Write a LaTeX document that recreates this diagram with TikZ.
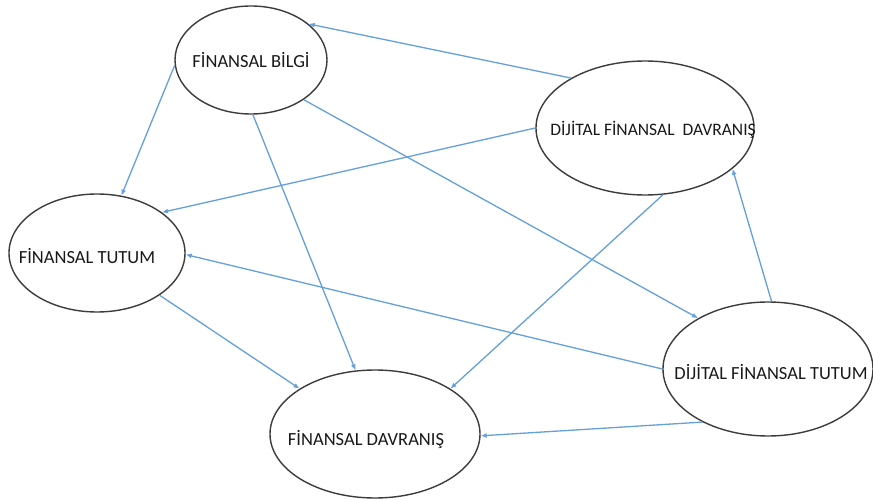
\documentclass[tikz,border=0pt]{standalone}
\usepackage{fontspec}
\setmainfont{Carlito}
\usetikzlibrary{arrows.meta,shapes.geometric}
\definecolor{arr}{RGB}{100,160,220}
\definecolor{edge}{RGB}{60,60,60}
\tikzset{
  ell/.style={draw=edge, line width=1.4pt, ellipse, inner sep=0pt},
  lbl/.style={font=\fontsize{18.5}{22}\selectfont, text=black!90, inner sep=0pt},
  conn/.style={draw=arr, line width=1.3pt, -{Latex[length=6pt,width=5pt]}}
}
\begin{document}
\begin{tikzpicture}[x=1pt,y=-1pt]
\useasboundingbox (0,0) rectangle (873,502);
\fill[white] (0,0) rectangle (873,502);
\node[ell, minimum width=152pt, minimum height=108pt] (fb) at (251,60) {};
\node[ell, minimum width=218pt, minimum height=134pt] (dfd) at (645,128) {};
\node[ell, minimum width=176pt, minimum height=118pt] (ft) at (97,253) {};
\node[ell, minimum width=210pt, minimum height=134pt] (dft) at (768,369) {};
\node[ell, minimum width=210pt, minimum height=128pt] (fd) at (375,434) {};
\node[lbl] (tfb) at (251,60) {FİNANSAL BİLGİ};
\node[lbl, font=\fontsize{17.5}{20}\selectfont] (tdfd) at (653,130) {DİJİTAL FİNANSAL\ \ DAVRANIŞ};
\node[lbl] (tft) at (87,256) {FİNANSAL TUTUM};
\node[lbl] (tdft) at (771,372) {DİJİTAL FİNANSAL TUTUM};
\node[lbl] (tfd) at (366,440) {FİNANSAL DAVRANIŞ};
\draw[conn] (dfd.146) -- (fb.32);
\draw[conn] (fb.184) -- (ft.67);
\draw[conn] (dfd.180) -- (ft.32);
\draw[conn] (fb.272) -- (fd.107);
\draw[conn] (fb.-37) -- (dft.144);
\draw[conn] (dfd.-75) -- (fd.31);
\draw[conn] (dft.87) -- (dfd.-25);
\draw[conn] (dft.180) -- (ft.-1);
\draw[conn] (ft.-34) -- (fd.149);
\draw[conn] (dft.219) -- (fd.-1);
\end{tikzpicture}
\end{document}
